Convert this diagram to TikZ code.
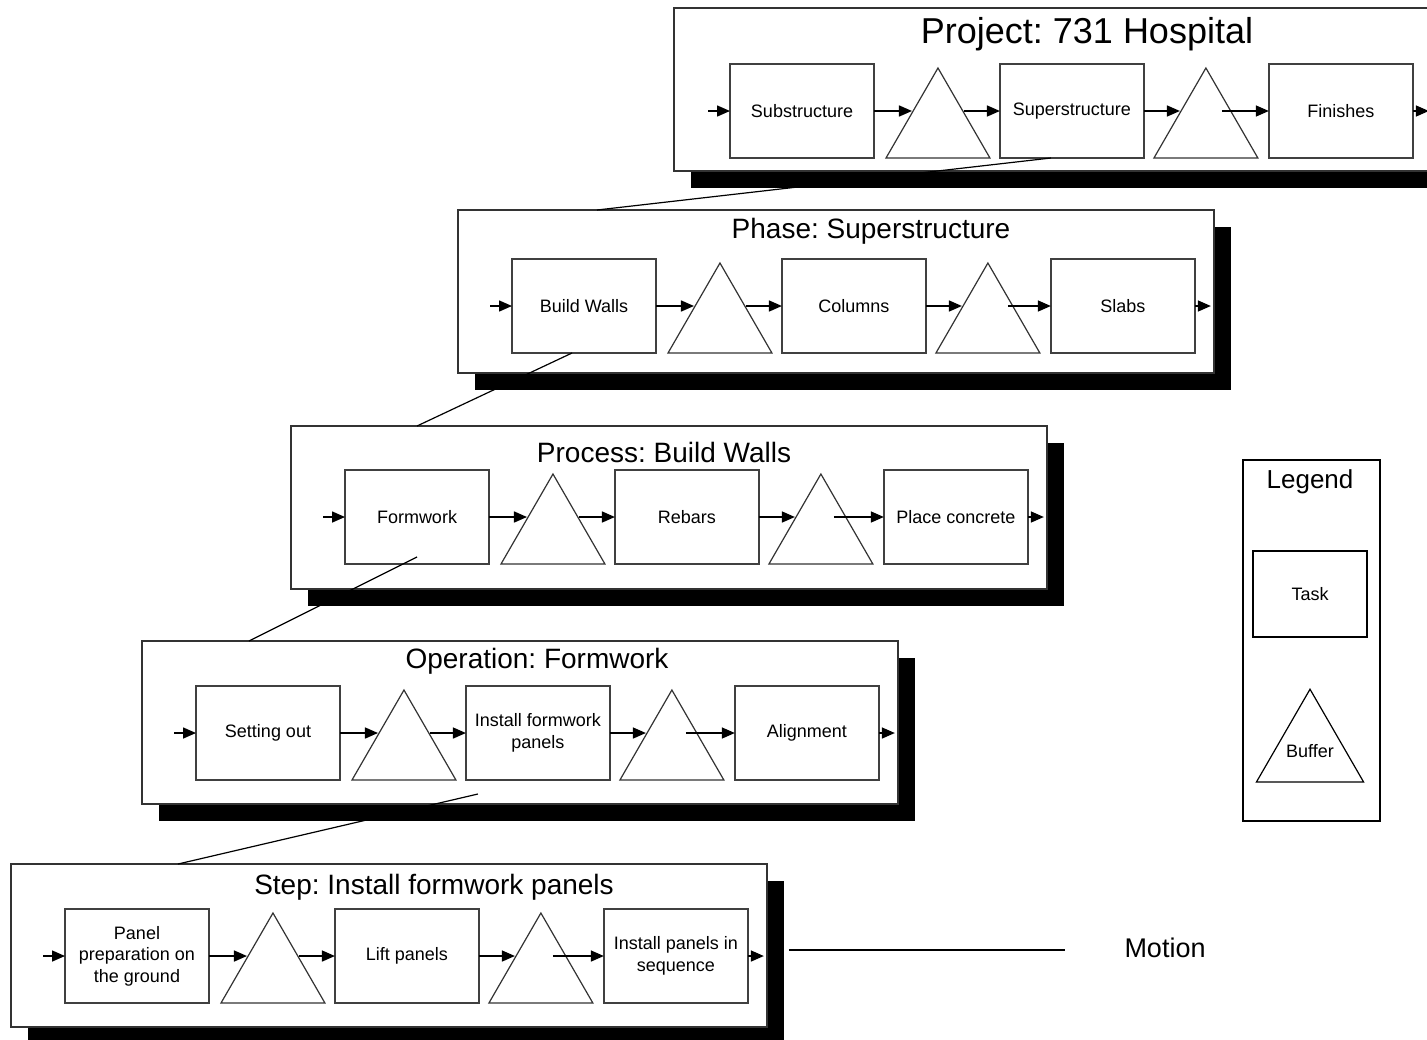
\documentclass[tikz,border=0pt]{standalone}
\usepackage{fontspec}
\setmainfont{Liberation Sans}
\frenchspacing
\usetikzlibrary{shapes.geometric, arrows.meta, positioning, calc, shadows}

\begin{document}
\begin{tikzpicture}[
    x=0.5pt, y=-0.5pt,
    panel/.style    = {rectangle, draw=black!80, line width=1.2pt, fill=white,
                       minimum width=378pt, minimum height=81.5pt, inner sep=0pt, outer sep=0pt,
                       anchor=north west,
                       drop shadow={shadow xshift=8.5pt, shadow yshift=-8.5pt, fill=black, opacity=1}},
    headline/.style = {font=\fontsize{14}{16}\selectfont, inner sep=0pt},
    task/.style     = {rectangle, draw=black!75, line width=0.8pt, fill=white,
                       minimum width=72pt, minimum height=47pt, inner sep=1pt, outer sep=0pt,
                       align=center, font=\fontsize{9}{10.8}\selectfont},
    buffer/.style   = {regular polygon, regular polygon sides=3, draw=black!80, line width=0.6pt,
                       minimum size=60pt, inner sep=0pt, outer sep=0pt,
                       font=\fontsize{9}{10.8}\selectfont},
    flow/.style     = {-{Triangle[length=6.5pt, width=5.5pt]}, line width=0.75pt},
    zoomline/.style = {line width=0.6pt},
]
\useasboundingbox (0,0) rectangle (1427,1039);

% project
\node[panel] (project) at (674,8) {};
\node[headline, font=\fontsize{18}{20}\selectfont] (projectT) at (1087,34) {Project: 731 Hospital};
\node[task] (sub) at (802,111) {Substructure};
\node[buffer, right=6pt of sub.south east, anchor=corner 2]   (bs1) {};
\node[task,   right=5pt of bs1.corner 3, anchor=south west]   (sup) {Superstructure};
\node[buffer, right=5pt of sup.south east, anchor=corner 2]   (bs2) {};
\node[task,   right=5.5pt of bs2.corner 3, anchor=south west] (fin) {Finishes};
\draw[flow] ([xshift=-11pt]sub.west) -- (sub.west);
\draw[flow] (sub.east) -- (sub.east -| bs1.side 1);
\draw[flow] (sup.west -| bs1.side 3) -- (sup.west);
\draw[flow] (sup.east) -- (sup.east -| bs2.side 1);
\draw[flow] ($(fin.west -| bs2.side 3)+(-10,0)$) -- (fin.west);
\draw[flow] (fin.east) -- ([xshift=8pt]fin.east);

% phase
\node[panel] (phase) at (458,210) {};
\node[headline] (phaseT) at (871,231) {Phase: Superstructure};
\node[task] (walls) at (584,306) {Build Walls};
\node[buffer, right=6pt of walls.south east, anchor=corner 2]   (bp1) {};
\node[task,   right=5pt of bp1.corner 3, anchor=south west]     (cols) {Columns};
\node[buffer, right=5pt of cols.south east, anchor=corner 2]    (bp2) {};
\node[task,   right=5.5pt of bp2.corner 3, anchor=south west]   (slabs) {Slabs};
\draw[flow] ([xshift=-11pt]walls.west) -- (walls.west);
\draw[flow] (walls.east) -- (walls.east -| bp1.side 1);
\draw[flow] (cols.west -| bp1.side 3) -- (cols.west);
\draw[flow] (cols.east) -- (cols.east -| bp2.side 1);
\draw[flow] ($(slabs.west -| bp2.side 3)+(-6,0)$) -- (slabs.west);
\draw[flow] (slabs.east) -- ([xshift=8pt]slabs.east);

% process
\node[panel] (process) at (291,426) {};
\node[headline] (processT) at (664,452) {Process: Build Walls};
\node[task] (form) at (417,517) {Formwork};
\node[buffer, right=6pt of form.south east, anchor=corner 2]    (bw1) {};
\node[task,   right=5pt of bw1.corner 3, anchor=south west]     (rebar) {Rebars};
\node[buffer, right=5pt of rebar.south east, anchor=corner 2]   (bw2) {};
\node[task,   right=5.5pt of bw2.corner 3, anchor=south west]   (conc) {Place concrete};
\draw[flow] ([xshift=-11pt]form.west) -- (form.west);
\draw[flow] (form.east) -- (form.east -| bw1.side 1);
\draw[flow] (rebar.west -| bw1.side 3) -- (rebar.west);
\draw[flow] (rebar.east) -- (rebar.east -| bw2.side 1);
\draw[flow] ($(conc.west -| bw2.side 3)+(-13,0)$) -- (conc.west);
\draw[flow] (conc.east) -- ([xshift=8pt]conc.east);

% operation
\node[panel] (operation) at (142,641) {};
\node[headline] (operationT) at (537,661) {Operation: Formwork};
\node[task] (setout) at (268,733) {Setting out};
\node[buffer, right=6pt of setout.south east, anchor=corner 2]  (bo1) {};
\node[task,   right=5pt of bo1.corner 3, anchor=south west]     (ifp) {Install formwork\\panels};
\node[buffer, right=5pt of ifp.south east, anchor=corner 2]     (bo2) {};
\node[task,   right=5.5pt of bo2.corner 3, anchor=south west]   (alig) {Alignment};
\draw[flow] ([xshift=-11pt]setout.west) -- (setout.west);
\draw[flow] (setout.east) -- (setout.east -| bo1.side 1);
\draw[flow] (ifp.west -| bo1.side 3) -- (ifp.west);
\draw[flow] (ifp.east) -- (ifp.east -| bo2.side 1);
\draw[flow] ($(alig.west -| bo2.side 3)+(-12,0)$) -- (alig.west);
\draw[flow] (alig.east) -- ([xshift=8pt]alig.east);

% step
\node[panel] (steppnl) at (11,864) {};
\node[headline] (steppnlT) at (434,887) {Step: Install formwork panels};
\node[task] (prep) at (137,956) {Panel\\preparation on\\the ground};
\node[buffer, right=6pt of prep.south east, anchor=corner 2]    (bi1) {};
\node[task,   right=5pt of bi1.corner 3, anchor=south west]     (lift) {Lift panels};
\node[buffer, right=5pt of lift.south east, anchor=corner 2]    (bi2) {};
\node[task,   right=5.5pt of bi2.corner 3, anchor=south west]   (seq) {Install panels in\\sequence};
\draw[flow] ([xshift=-11pt]prep.west) -- (prep.west);
\draw[flow] (prep.east) -- (prep.east -| bi1.side 1);
\draw[flow] (lift.west -| bi1.side 3) -- (lift.west);
\draw[flow] (lift.east) -- (lift.east -| bi2.side 1);
\draw[flow] ($(seq.west -| bi2.side 3)+(-14,0)$) -- (seq.west);
\draw[flow] (seq.east) -- ([xshift=8pt]seq.east);

% zoom lines between levels
\draw[zoomline] ([xshift=-10.5pt]sup.south) -- ([xshift=69.5pt]phase.north west);
\draw[zoomline] ([xshift=-6pt]walls.south) -- ([xshift=63pt]process.north west);
\draw[zoomline] ([yshift=3.5pt]form.south) -- ([xshift=53.5pt]operation.north west);
\draw[zoomline] ([xshift=-30pt, yshift=-7pt]ifp.south) -- ([xshift=83.5pt]steppnl.north west);

% legend
\node[draw, line width=0.9pt, minimum width=68.5pt, minimum height=180.5pt,
      inner sep=0pt, anchor=north west] (legend) at (1242,459) {};
\node[font=\fontsize{13}{15}\selectfont] (legendT) at (1310,482) {Legend};
\node[task, draw=black, minimum width=57pt, minimum height=43pt] (ltask) at (1310,594) {Task};
\node[buffer, draw=black, minimum size=61.8pt,
      label={[font=\fontsize{9}{10.8}\selectfont]center:Buffer}] (lbuf) at (1310,751) {};

% motion
\node[font=\fontsize{13.5}{15}\selectfont] (motion) at (1165,948) {Motion};
\coordinate (mstart) at (789,950);
\draw[zoomline] (mstart) -- ($(motion.west |- mstart)+(-52,0)$);

\end{tikzpicture}
\end{document}
